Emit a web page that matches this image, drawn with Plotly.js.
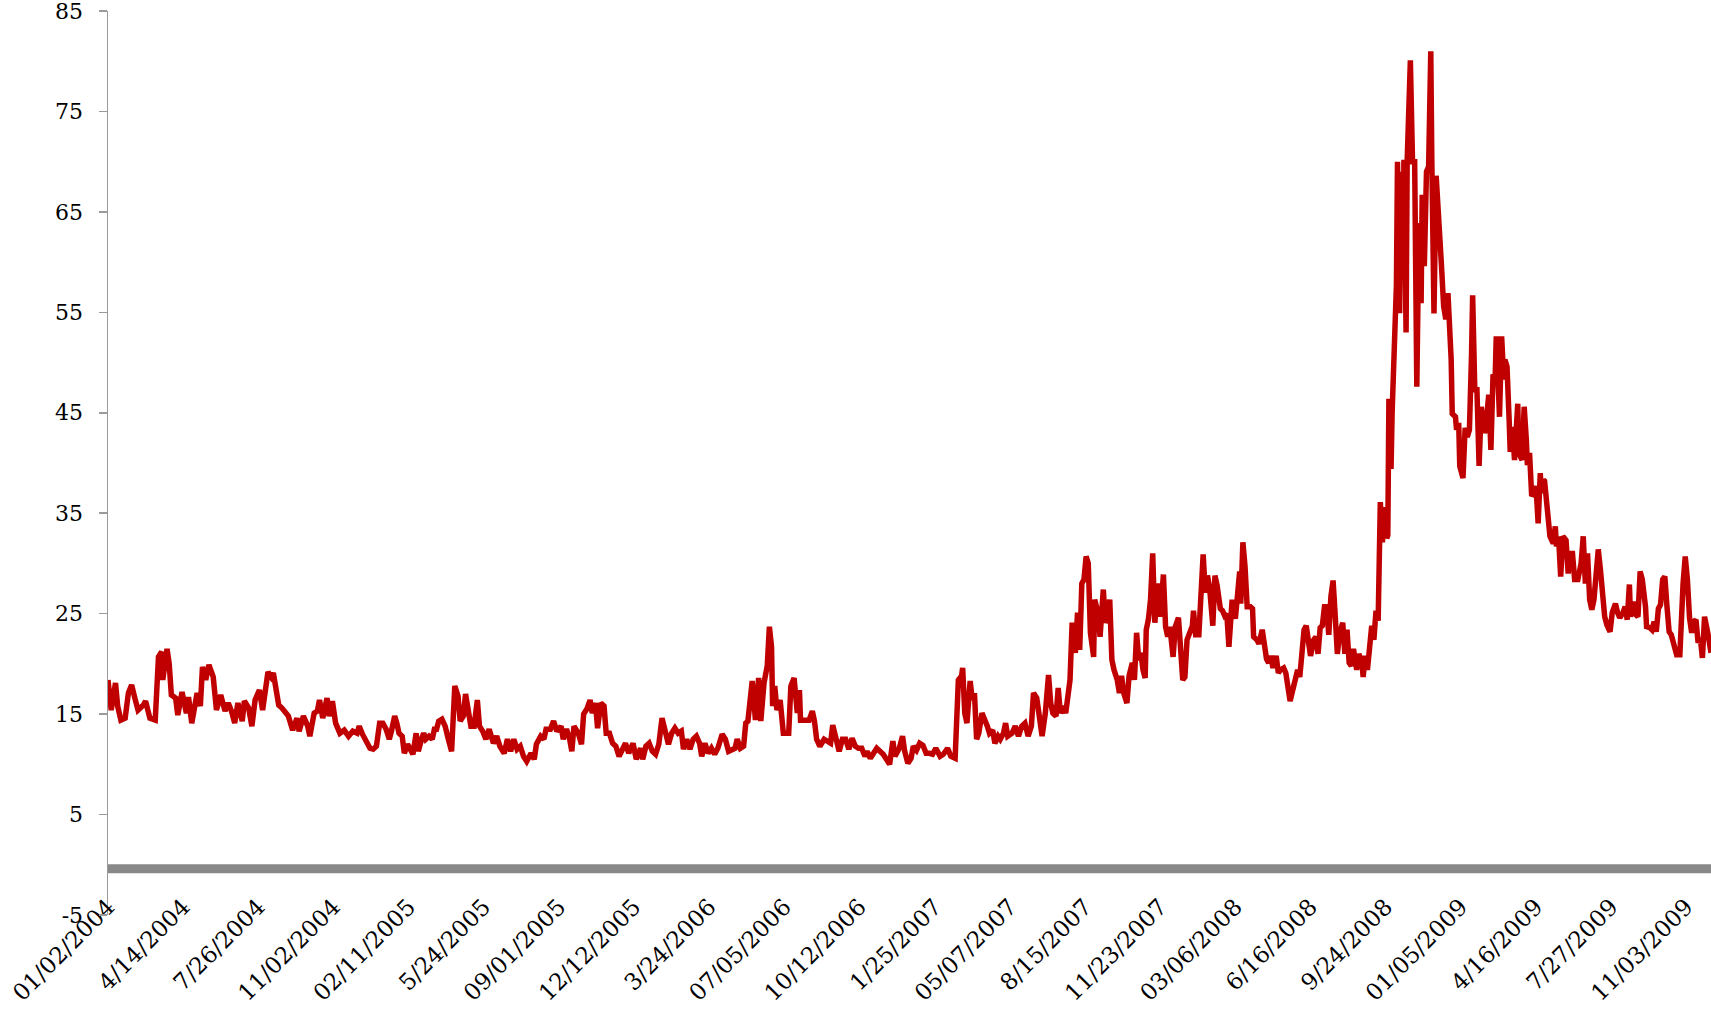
<!DOCTYPE html>
<html>
<head>
<meta charset="utf-8">
<script src="https://cdn.plot.ly/plotly-3.0.1.min.js"></script>
<style>
  html, body { margin: 0; padding: 0; background: #ffffff; }
  #chart { width: 1711px; height: 1010px; }
</style>
</head>
<body>
<div id="chart"></div>
<script>
// Trading-day index (0 = 01/02/2004) of each point
const dayIndex = [
  0,3,7,9,12,16,19,22,25,28,33,35,39,44,47,50,51,55,57,59,63,65,69,73,75,78,83,86,88,91,94,98,101,105,109,112,115,118,121,125,127,131,134,137,141,144,149,152,154,156,159,162,164,168,172,176,178,182,186,188,192,195,197,200,204,206,209,212,216,220,224,228,232,234,237,240,244,247,
  250,253,256,259,262,264,267,269,271,274,276,279,282,284,287,289,292,294,296,299,302,304,306,308,311,314,317,320,323,326,328,331,333,336,338,341,344,346,349,352,355,359,362,365,369,372,375,378,381,384,387,390,394,397,399,403,406,408,412,415,418,422,424,427,430,432,434,438,441,443,446,449,451,454,456,459,462,464,467,470,473,476,479,482,485,489,492,496,
  498,501,504,507,510,513,516,519,522,525,528,531,534,536,539,542,545,548,551,553,556,559,562,565,568,572,575,578,581,584,586,589,592,594,596,598,600,603,606,608,611,614,616,618,619,621,623,626,629,632,634,636,639,642,644,645,649,653,656,658,660,663,667,670,673,675,678,681,684,687,690,693,696,699,702,705,707,710,713,716,719,722,725,728,731,733,737,740,742,745,748,
  750,753,756,759,762,765,768,771,775,778,782,785,789,792,795,796,798,800,803,805,807,809,811,814,817,819,821,824,826,829,831,834,836,838,842,845,848,851,854,857,860,862,865,868,870,873,876,878,880,883,885,887,890,892,895,896,898,901,903,905,907,909,911,913,915,918,919,922,924,927,929,931,933,935,937,940,942,944,946,949,951,954,956,958,960,962,964,966,967,969,971,973,975,978,980,983,985,987,989,992,994,997,
  1001,1003,1005,1008,1010,1011,1013,1016,1018,1020,1022,1024,1026,1029,1031,1033,1036,1038,1040,1042,1044,1047,1050,1052,1054,1055,1057,1059,1061,1064,1066,1067,1070,1072,1075,1077,1079,1081,1083,1085,1088,1090,1092,1095,1097,1099,1101,1103,1106,1108,1110,1112,1114,1116,1118,1120,1123,1125,1127,1129,1131,1133,1135,1137,1139,1141,1143,1145,1147,1150,1152,1154,1156,1158,1160,1163,1165,1168,1169,1171,1173,1175,1177,1179,1181,1183,1184,1185,1187,1189,1191,1192,1193,1195,1196,1198,1200,1201,1203,1204,1206,1207,1209,1210,1212,1213,1215,1217,1219,1221,1223,1224,1226,1228,1230,1232,1233,1235,1237,1238,1240,1242,
  1244,1246,1248,1251,1252,1255,1256,1258,1259,1261,1262,1264,1266,1268,1269,1270,1271,1273,1275,1277,1279,1282,1283,1286,1288,1290,1292,1293,1295,1296,1298,1300,1301,1303,1305,1306,1308,1310,1313,1314,1317,1319,1321,1322,1324,1326,1328,1330,1332,1334,1335,1337,1338,1340,1343,1346,1348,1349,1351,1353,1355,1358,1360,1362,1364,1366,1369,1372,1374,1376,1378,1380,1382,1384,1386,1388,1390,1392,1394,1396,1399,1401,1404,1406,1408,1411,1413,1415,1417,1418,1421,1423,1425,1427,1429,1432,1433,1436,1438,1440,1442,1444,1446,1448,1450,1452,1454,1456,1459,1461,1464,1465,1467,1469,1471,1473,1475,1477,1479,1481,1483,1485,1487,1490,1492,1493
];

// Index value at each point
const vix = [
  18.4,15.4,18.1,15.8,14.4,14.6,17.1,17.9,16.6,15.4,15.9,16.3,14.6,14.4,20.7,21.2,18.4,21.5,20.0,16.9,16.6,14.9,17.2,15.1,16.7,14.1,17.1,15.8,19.7,18.4,19.9,18.7,15.4,16.9,15.3,16.1,15.3,14.1,16.1,14.3,16.3,15.6,13.8,16.4,17.4,15.4,19.2,18.7,19.1,17.4,15.9,15.6,15.3,14.8,13.4,14.6,13.3,14.8,13.8,12.8,15.1,15.3,16.4,14.6,16.6,14.8,16.3,14.1,13.1,13.4,12.8,13.3,13.1,13.8,13.0,12.5,11.6,11.5,
  11.8,14.1,14.1,13.5,12.5,13.3,14.8,14.1,13.1,12.8,11.1,12.0,11.3,11.0,13.1,11.3,12.5,13.1,12.5,12.8,12.5,13.5,13.5,14.3,14.5,13.8,12.5,11.3,17.8,16.8,14.3,14.8,17.0,14.5,13.8,13.8,16.4,13.8,13.3,12.5,13.5,12.1,12.8,11.8,11.1,12.5,11.3,12.5,11.5,11.8,10.8,10.3,11.1,10.5,12.0,12.8,12.5,13.5,13.5,14.3,13.3,13.8,12.5,13.5,12.5,11.3,13.8,13.1,12.0,15.0,15.5,16.4,15.1,16.1,13.6,16.1,15.8,13.1,13.1,12.1,11.8,10.8,11.6,12.1,11.1,12.1,10.5,11.6,
  10.5,11.8,12.1,11.3,11.0,12.0,14.6,13.5,12.0,13.1,13.6,13.1,13.3,11.5,12.5,11.5,12.5,12.8,12.1,10.8,12.1,11.1,11.6,11.0,11.6,13.0,12.5,11.3,11.5,11.6,12.5,11.6,11.8,14.1,14.3,16.9,18.3,14.4,18.6,14.3,18.1,19.8,23.7,21.7,15.8,17.8,15.4,16.4,13.1,13.1,13.1,17.8,18.6,15.1,17.4,14.4,14.4,14.4,15.3,14.3,12.5,11.8,12.5,12.3,12.1,13.9,12.5,11.3,12.5,12.5,11.5,12.6,11.8,11.6,11.6,10.8,11.3,10.6,11.1,11.6,11.3,11.0,10.5,10.0,12.3,10.8,11.6,12.8,11.3,10.1,10.6,
  11.8,11.4,12.1,11.9,11.1,11.1,11.0,11.6,10.8,11.0,11.6,10.8,10.6,18.4,18.8,19.6,15.1,14.1,18.3,16.4,17.1,12.5,13.1,15.1,14.4,13.8,13.1,13.4,12.1,12.8,12.5,13.1,14.1,12.8,13.1,13.8,12.8,13.8,14.1,12.8,13.8,17.1,16.6,13.8,12.8,15.1,18.9,16.1,15.1,14.8,17.6,15.1,15.8,15.1,17.1,18.4,24.1,21.1,25.1,21.4,28.0,28.4,30.7,30.0,23.1,20.7,26.4,25.1,22.7,27.4,24.1,24.7,26.4,20.4,19.4,18.4,17.1,18.8,17.1,16.1,18.8,20.1,18.4,23.1,20.4,21.1,19.4,18.6,23.4,24.4,26.4,31.0,24.1,28.0,24.7,28.9,23.7,22.7,23.7,20.7,23.7,24.6,
  18.4,18.7,22.4,23.4,23.8,25.3,22.9,22.9,28.3,30.9,27.1,28.8,27.6,23.8,28.8,27.8,25.5,25.3,24.8,25.0,21.7,26.4,24.5,27.4,29.2,26.0,32.1,29.7,25.7,25.7,25.5,22.7,22.4,22.0,23.4,22.0,20.5,20.1,20.8,19.6,20.8,19.1,19.4,19.6,19.1,17.7,16.3,17.2,18.4,19.4,18.7,20.5,23.4,23.8,22.0,20.8,22.4,22.7,21.0,23.6,23.8,25.7,25.7,22.9,26.7,28.3,24.8,21.0,22.9,24.1,21.0,23.4,20.1,19.8,21.5,19.4,21.0,20.1,18.7,20.8,19.4,21.7,23.8,22.4,25.3,24.3,31.6,36.1,32.1,35.6,32.5,32.8,46.4,39.4,45.0,52.1,57.7,70.0,54.9,69.0,59.6,70.2,53.0,70.0,79.9,80.1,70.0,70.0,47.6,63.9,55.9,66.7,59.6,69.0,69.5,81.0,70.0,54.9,68.6,66.2,63.9,59.6,
  55.6,54.3,56.9,50.3,44.9,44.6,43.3,44.0,39.7,39.0,38.5,43.5,42.6,43.3,45.9,50.9,56.7,47.3,47.3,39.7,45.6,43.0,43.3,46.8,41.3,48.8,48.6,52.6,47.3,44.6,52.6,48.3,50.3,49.6,44.3,41.1,43.6,40.3,45.9,41.0,40.3,45.6,42.3,39.8,41.0,36.7,37.0,37.7,34.0,39.0,37.0,38.3,38.2,36.0,32.7,32.0,33.7,31.7,32.7,28.7,32.7,32.3,29.0,31.0,31.0,28.4,28.4,30.0,32.7,28.0,31.0,26.4,25.4,26.4,28.4,31.4,29.4,26.4,24.7,23.9,23.2,25.1,26.0,25.1,24.6,25.1,25.7,24.4,27.9,24.7,26.2,24.9,24.7,29.2,28.4,25.7,23.7,23.6,23.4,24.2,23.2,25.5,25.9,28.4,28.7,25.7,23.2,22.9,21.4,20.9,20.9,24.4,28.0,30.7,28.4,24.6,23.1,24.2,24.4,22.1,22.6,20.6,24.7,23.1,21.7,21.1
];

// Category tick positions (trading-day index) and their labels
const tickIndex = [0,70,140,210,280,350,420,490,560,630,700,770,840,910,980,1050,1120,1190,1260,1330,1400,1470];
const tickLabels = ["01/02/2004","4/14/2004","7/26/2004","11/02/2004","02/11/2005","5/24/2005","09/01/2005","12/12/2005","3/24/2006","07/05/2006","10/12/2006","1/25/2007","05/07/2007","8/15/2007","11/23/2007","03/06/2008","6/16/2008","9/24/2008","01/05/2009","4/16/2009","7/27/2009","11/03/2009"];

const yTicks = [-5,5,15,25,35,45,55,65,75,85];
const yTickLabels = ["-5","5","15","25","35","45","55","65","75","85"];

const FONT = "Georgia, 'DejaVu Serif', serif";

const trace = {
  x: dayIndex,
  y: vix,
  type: 'scatter',
  mode: 'lines',
  line: { color: '#C00000', width: 5.5, shape: 'linear' },
  hoverinfo: 'skip'
};

const layout = {
  width: 1711,
  height: 1010,
  paper_bgcolor: '#ffffff',
  plot_bgcolor: '#ffffff',
  showlegend: false,
  margin: { l: 108, r: 0, t: 11, b: 95, pad: 0 },
  font: { family: FONT, color: '#000000', size: 22 },
  xaxis: {
    range: [0, 1493],
    anchor: 'free',
    position: 0.03,
    tickmode: 'array',
    tickvals: tickIndex,
    ticktext: tickLabels,
    tickangle: -45,
    ticks: '',
    showgrid: false,
    zeroline: false,
    showline: false,
    fixedrange: true,
    automargin: false,
    ticklabeloverflow: 'allow',
    tickfont: { family: FONT, size: 23, color: '#000000' }
  },
  yaxis: {
    range: [-5, 85],
    tickmode: 'array',
    tickvals: yTicks,
    ticktext: yTickLabels,
    ticks: 'outside',
    ticklen: 8,
    tickwidth: 1.5,
    tickcolor: '#9a9a9a',
    showline: true,
    linecolor: '#9a9a9a',
    linewidth: 1.5,
    showgrid: false,
    zeroline: false,
    fixedrange: true,
    automargin: false,
    ticklabelstandoff: 11,
    ticklabeloverflow: 'allow',
    tickfont: { family: FONT, size: 22, color: '#000000' }
  },
  shapes: [{
    type: 'line', layer: 'below',
    xref: 'paper', x0: 0, x1: 1,
    yref: 'y', y0: -0.4, y1: -0.4,
    line: { color: '#898989', width: 9 }
  }]
};

Plotly.newPlot('chart', [trace], layout, { displayModeBar: false, staticPlot: true });
</script>
</body>
</html>
